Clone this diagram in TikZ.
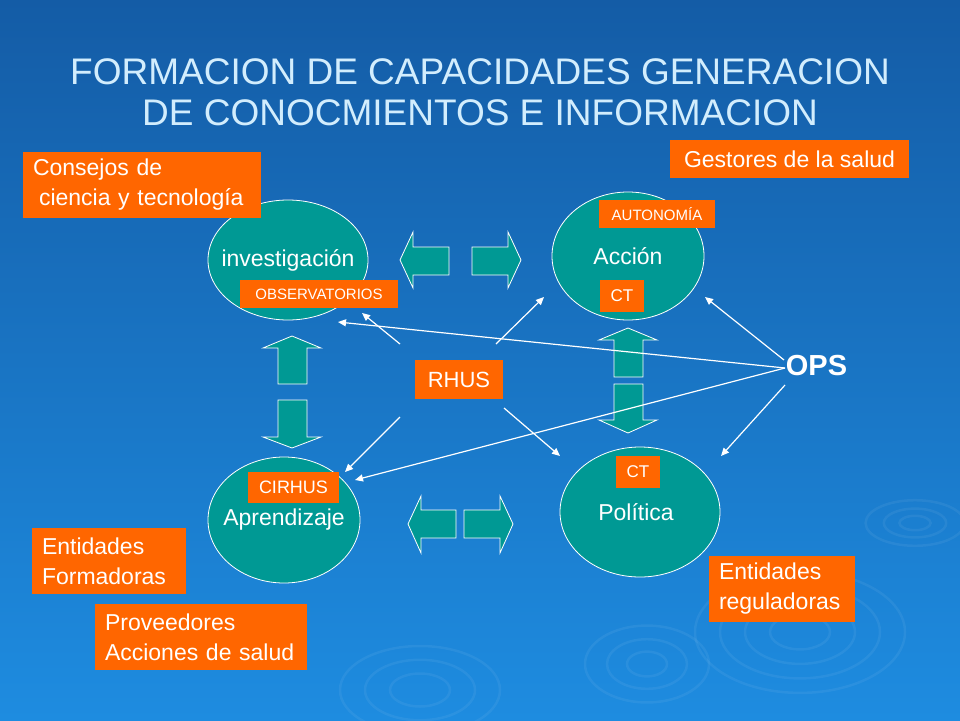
\documentclass[tikz,border=0pt]{standalone}
\usepackage{fontspec}
\setmainfont{Liberation Sans}
\usetikzlibrary{shapes.geometric,arrows.meta}

\definecolor{bgtop}{RGB}{20,92,166}
\definecolor{bgbot}{RGB}{30,140,224}
\definecolor{blobteal}{RGB}{0,153,148}
\definecolor{boxorange}{RGB}{255,102,0}
\definecolor{titlecol}{RGB}{210,237,253}

\newcommand{\inbox}[1]{\makebox[0pt]{#1}}

\tikzset{
  blob/.style={ellipse, draw=white, line width=0.8pt, fill=blobteal, inner sep=0pt,
    text=white, font=\fontsize{23}{26}\selectfont},
  tag/.style={fill=boxorange, text=white, inner sep=0pt, font=\fontsize{23}{30}\selectfont},
  smalltag/.style={tag, font=\fontsize{15}{17}\selectfont},
  bigarrow/.style={draw=white, line width=0.8pt, fill=blobteal},
  link/.style={draw=white, line width=1.2pt, -{Triangle[length=8pt,width=7pt]}},
  ripple/.style={draw=white, opacity=0.06, line width=2.5pt},
  title/.style={text=titlecol, font=\fontsize{37}{41}\selectfont, anchor=base}
}

\begin{document}
\begin{tikzpicture}[x=1pt, y=-1pt]
    % Background
    \useasboundingbox (0,0) rectangle (960,720);
    \shade[top color=bgtop, bottom color=bgbot] (0,0) rectangle (960,720);
    \begin{scope}
    \clip (0,0) rectangle (960,720);
    \foreach \r in {12,24,38} {\draw[ripple] (915,523) ellipse ({\r*1.3} and {\r*0.6});}
    \foreach \r in {30,55,80,105} {\draw[ripple] (800,632) ellipse ({\r} and {\r*0.58});}
    \foreach \r in {20,40,62} {\draw[ripple] (647,664) ellipse ({\r} and {\r*0.62});}
    \foreach \r in {30,55,80} {\draw[ripple] (420,690) ellipse ({\r} and {\r*0.55});}
    \end{scope}

    % Title
    \node[title] (ttl1) at (480,84) {FORMACION DE CAPACIDADES GENERACION};
    \node[title] (ttl2) at (480,125) {DE CONOCMIENTOS E INFORMACION};

    % Block arrows
    \draw[bigarrow] (400,260) -- (413,232) -- (413,247) -- (449,247) -- (449,275) -- (413,275) -- (413,288) -- cycle;
    \draw[bigarrow] (521,260) -- (508,232) -- (508,247) -- (472,247) -- (472,275) -- (508,275) -- (508,288) -- cycle;
    \draw[bigarrow] (292,336) -- (321,348) -- (307,348) -- (307,384) -- (278,384) -- (278,348) -- (263,348) -- cycle;
    \draw[bigarrow] (292,448) -- (321,437) -- (307,437) -- (307,400) -- (278,400) -- (278,437) -- (263,437) -- cycle;
    \draw[bigarrow] (628,328) -- (657,340) -- (643,340) -- (643,377) -- (614,377) -- (614,340) -- (599,340) -- cycle;
    \draw[bigarrow] (628,433) -- (657,420) -- (643,420) -- (643,384) -- (614,384) -- (614,420) -- (599,420) -- cycle;
    \draw[bigarrow] (408,524) -- (421,496) -- (421,510) -- (456,510) -- (456,538) -- (421,538) -- (421,553) -- cycle;
    \draw[bigarrow] (513,524) -- (500,496) -- (500,510) -- (464,510) -- (464,538) -- (500,538) -- (500,553) -- cycle;

    % Circles
    \node[blob, minimum width=160pt, minimum height=120pt] (inv) at (288,260) {\inbox{investigación}};
    \node[blob, minimum width=152pt, minimum height=128pt] (acc) at (628,256) {\inbox{Acción}};
    \node[blob, minimum width=152pt, minimum height=126pt] (apr) at (284,520) {\inbox{Aprendizaje}};
    \node[blob, minimum width=160pt, minimum height=130pt] (pol) at (640,512) {\inbox{\hspace{-8pt}Política}};

    % Orange labels
    \node[tag, minimum width=238pt, minimum height=66pt, text width=218pt, align=left, inner xsep=10pt] (csj) at (142,185) {Consejos de\\\hspace{6pt}ciencia y tecnología};
    \node[tag, minimum width=239pt, minimum height=38pt] (ges) at (789.5,159) {Gestores de la salud};
    \node[smalltag, minimum width=116pt, minimum height=28pt] (aut) at (657,214) {AUTONOMÍA};
    \node[smalltag, minimum width=158pt, minimum height=28pt] (obs) at (319,294) {OBSERVATORIOS};
    \node[tag, font=\fontsize{17}{19}\selectfont, minimum width=44pt, minimum height=32pt] (ct1) at (622,296) {CT};
    \node[tag, font=\fontsize{22}{24}\selectfont, minimum width=88pt, minimum height=39pt] (rhus) at (459,379.5) {RHUS};
    \node[tag, font=\fontsize{17}{19}\selectfont, minimum width=44pt, minimum height=32pt] (ct2) at (638,472) {CT};
    \node[tag, font=\fontsize{18}{20}\selectfont, minimum width=91pt, minimum height=31pt] (cir) at (293.5,487.5) {CIRHUS};
    \node[tag, minimum width=154pt, minimum height=66pt, text width=134pt, align=left, inner xsep=10pt] (frm) at (109,561) {Entidades\\Formadoras};
    \node[tag, minimum width=212pt, minimum height=66pt, text width=192pt, align=left, inner xsep=10pt] (prv) at (201,637) {Proveedores\\Acciones de salud};
    \node[tag, minimum width=146pt, minimum height=66pt, text width=126pt, align=left, inner xsep=10pt] (reg) at (782,589) {Entidades\\reguladoras};

    % OPS
    \node[text=white, font=\fontsize{29}{31}\selectfont\bfseries] (ops) at (816.5,366) {OPS};

    % Arrow ends
    \coordinate (o) at (785,368);
    \coordinate (oa) at (784,360);
    \coordinate (op) at (785,385);
    \coordinate (r1) at (400,344);
    \coordinate (r2) at (496,344);
    \coordinate (r3) at (400,417);
    \coordinate (r4) at (504,408);
    \coordinate (e1) at (338,322);
    \coordinate (e2) at (355,480);
    \coordinate (e3) at (705,297);
    \coordinate (e4) at (721,456);
    \coordinate (e5) at (362,313);
    \coordinate (e6) at (544,297);
    \coordinate (e7) at (345,472);
    \coordinate (e8) at (560,456);

    % Links
    \draw[link] (o) -- (e1);
    \draw[link] (o) -- (e2);
    \draw[link] (oa) -- (e3);
    \draw[link] (op) -- (e4);
    \draw[link] (r1) -- (e5);
    \draw[link] (r2) -- (e6);
    \draw[link] (r3) -- (e7);
    \draw[link] (r4) -- (e8);
\end{tikzpicture}
\end{document}
